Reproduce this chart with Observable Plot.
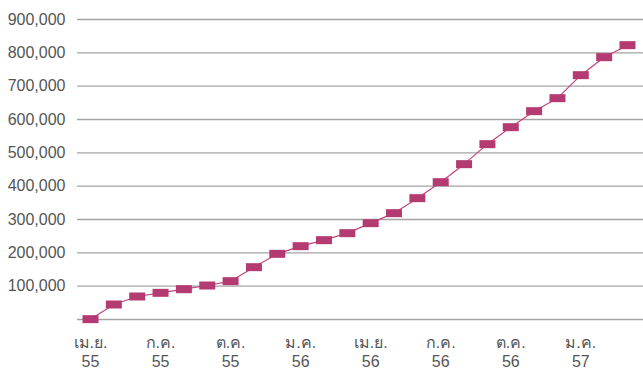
<!DOCTYPE html>
<html>
<head>
<meta charset="utf-8">
<script src="https://cdn.jsdelivr.net/npm/d3@7"></script>
<script src="https://cdn.jsdelivr.net/npm/@observablehq/plot@0.6"></script>
<style>
  html, body { margin: 0; padding: 0; background: #fff; }
  #chart svg { display: block; }
</style>
</head>
<body>
<div id="chart"></div>
<script>
// Month index (0 = เม.ย. 55 ... 23 = มี.ค. 57)
const monthIndex = d3.range(24);
const values = [1000, 45000, 69000, 80000, 91000, 102000, 115000, 157000, 197000, 220000, 238000, 259000,
                289000, 319000, 364000, 412000, 466000, 526000, 577000, 625000, 664000, 733000, 787000, 823000];
const tickPos = [0, 3, 6, 9, 12, 15, 18, 21];
const tickMonths = ["เม.ย.", "ก.ค.", "ต.ค.", "ม.ค.", "เม.ย.", "ก.ค.", "ต.ค.", "ม.ค."];
const tickYears = ["55", "55", "55", "56", "56", "56", "56", "57"];
const yTicks = [100000, 200000, 300000, 400000, 500000, 600000, 700000, 800000, 900000];
const gridValues = [0, ...yTicks];

const data = monthIndex.map((m, i) => ({m, v: values[i]}));

const rectSymbol = {
  draw(context) {
    context.rect(-8, -4, 16, 8);
  }
};

const chart = Plot.plot({
  width: 643,
  height: 376,
  marginLeft: 77,
  marginRight: 0,
  marginTop: 19,
  marginBottom: 57,
  style: {fontFamily: "'Liberation Sans', 'Noto Sans', sans-serif", color: "#555", background: "#fff"},
  x: {type: "linear", domain: [-0.557, 23.685], label: null},
  y: {domain: [0, 900000], label: null},
  marks: [
    Plot.ruleY(gridValues, {stroke: "#a3a3a3", strokeWidth: 1.3}),
    Plot.axisY(yTicks, {tickSize: 0, tickPadding: 12, fontSize: 16, fill: "#555", label: null, tickFormat: d3.format(",")}),
    Plot.axisX(tickPos, {tickSize: 0, tickPadding: 15, fontSize: 16, fill: "#555", lineHeight: 1.2, label: null,
      tickFormat: (d) => { const k = tickPos.indexOf(d); return tickMonths[k] + "\n" + tickYears[k]; }}),
    Plot.line(data, {x: "m", y: "v", stroke: "#c0457f", strokeWidth: 1.2}),
    Plot.dot(data, {x: "m", y: "v", symbol: rectSymbol, fill: "#b43a72", stroke: "none"})
  ]
});
document.getElementById("chart").append(chart);
</script>
</body>
</html>
